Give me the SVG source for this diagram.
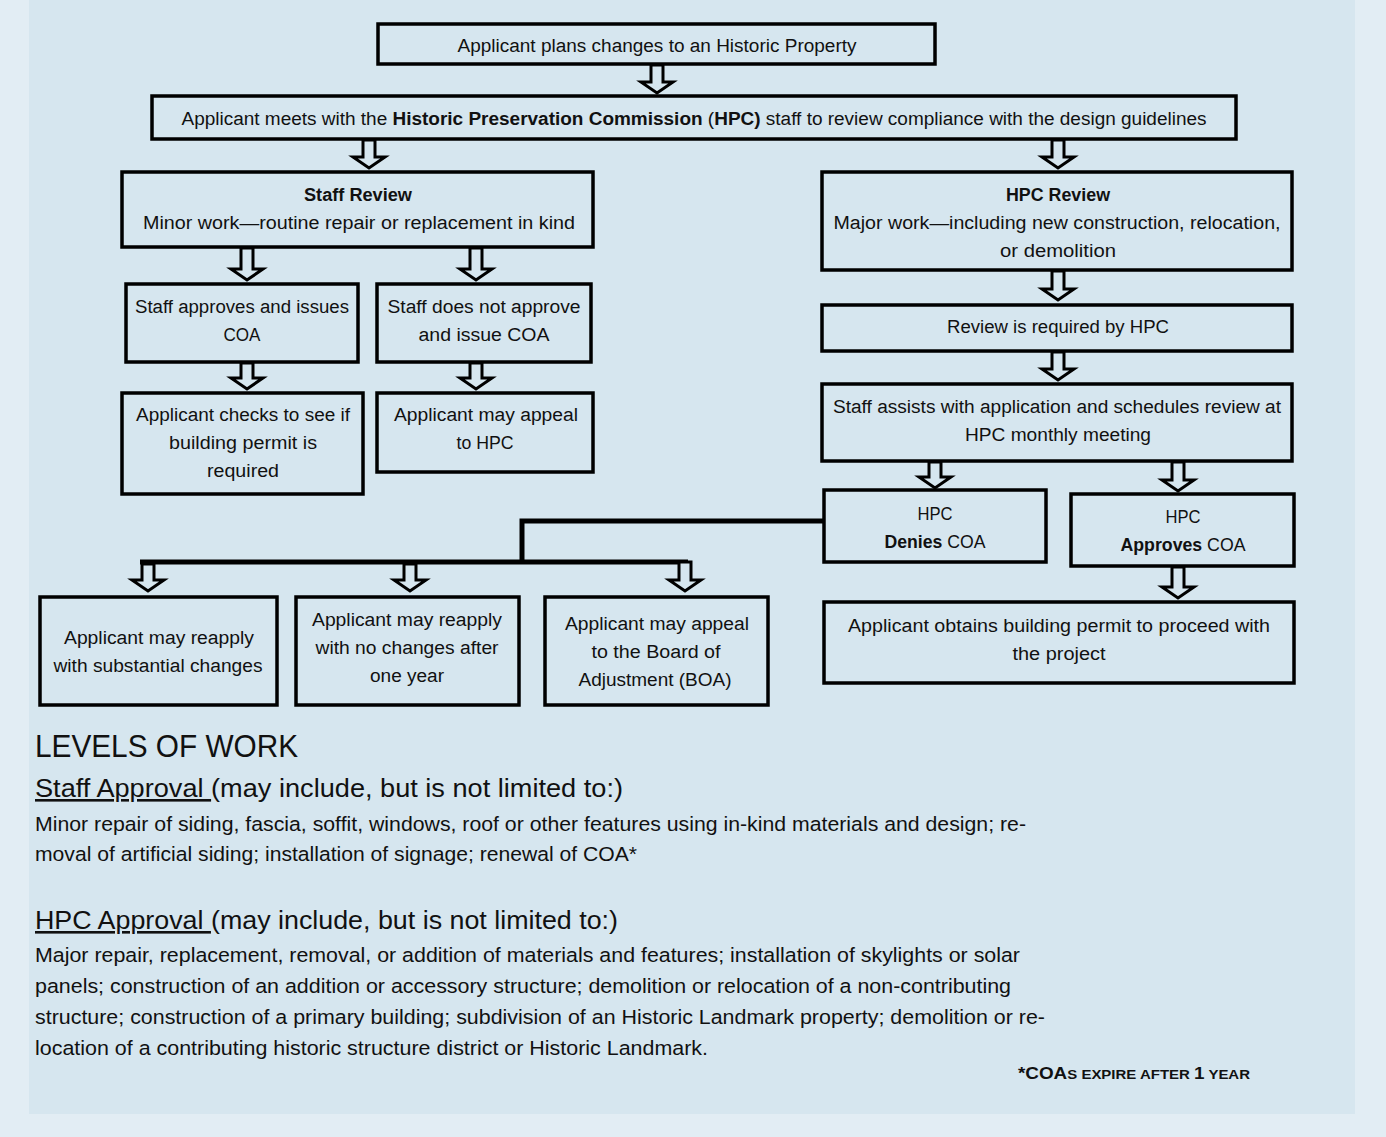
<svg xmlns="http://www.w3.org/2000/svg" width="1386" height="1137" viewBox="0 0 1386 1137">
<style>
.box{fill:none;stroke:#000;stroke-width:3.5}
.t{font-family:"Liberation Sans",Arial,sans-serif;font-size:18px;fill:#111;text-anchor:middle}
.b{font-weight:bold}
.arr{fill:#d6e6ef;stroke:#000;stroke-width:3;stroke-linejoin:miter}
.ln{fill:none;stroke:#000;stroke-width:5}
.h{font-family:"Liberation Sans",Arial,sans-serif;fill:#111}
</style>
<rect x="0" y="0" width="1386" height="1137" fill="#e2edf4"/>
<rect x="29" y="0" width="1326" height="1114" fill="#d6e6ef"/>

<g id="n1"><rect class="box" x="378" y="24" width="557" height="40"/><text class="t" x="657" y="52" textLength="399" lengthAdjust="spacingAndGlyphs">Applicant plans changes to an Historic Property</text></g>
<g id="n2"><rect class="box" x="152" y="96" width="1084" height="43"/><text class="t" x="694" y="125" textLength="1025" lengthAdjust="spacingAndGlyphs">Applicant meets with the <tspan class="b">Historic Preservation Commission</tspan> (<tspan class="b">HPC)</tspan> staff to review  compliance with  the design guidelines</text></g>
<g id="n3"><rect class="box" x="122" y="172" width="471" height="75"/><text class="t b" x="358" y="201" textLength="108" lengthAdjust="spacingAndGlyphs">Staff Review</text><text class="t" x="359" y="229" textLength="432" lengthAdjust="spacingAndGlyphs">Minor work—routine repair or replacement in kind</text></g>
<g id="n4"><rect class="box" x="822" y="172" width="470" height="98"/><text class="t b" x="1058" y="201" textLength="104" lengthAdjust="spacingAndGlyphs">HPC Review</text><text class="t" x="1057" y="229" textLength="447" lengthAdjust="spacingAndGlyphs">Major work—including new construction, relocation,</text><text class="t" x="1058" y="257" textLength="116" lengthAdjust="spacingAndGlyphs">or demolition</text></g>
<g id="n5"><rect class="box" x="126" y="284" width="232" height="78"/><text class="t" x="242" y="313" textLength="214" lengthAdjust="spacingAndGlyphs">Staff approves and issues</text><text class="t" x="242" y="341" textLength="37" lengthAdjust="spacingAndGlyphs">COA</text></g>
<g id="n6"><rect class="box" x="377" y="284" width="214" height="78"/><text class="t" x="484" y="313" textLength="193" lengthAdjust="spacingAndGlyphs">Staff does not approve</text><text class="t" x="484" y="341" textLength="131" lengthAdjust="spacingAndGlyphs">and  issue  COA</text></g>
<g id="n7"><rect class="box" x="122" y="393" width="241" height="101"/><text class="t" x="243" y="421" textLength="214" lengthAdjust="spacingAndGlyphs">Applicant checks to see if</text><text class="t" x="243" y="449" textLength="148" lengthAdjust="spacingAndGlyphs">building permit is</text><text class="t" x="243" y="477" textLength="72" lengthAdjust="spacingAndGlyphs">required</text></g>
<g id="n8"><rect class="box" x="377" y="393" width="216" height="79"/><text class="t" x="486" y="421" textLength="184" lengthAdjust="spacingAndGlyphs">Applicant may appeal</text><text class="t" x="485" y="449" textLength="57" lengthAdjust="spacingAndGlyphs">to HPC</text></g>
<g id="n9"><rect class="box" x="822" y="305" width="470" height="46"/><text class="t" x="1058" y="333" textLength="222" lengthAdjust="spacingAndGlyphs">Review is required by HPC</text></g>
<g id="n10"><rect class="box" x="822" y="384" width="470" height="77"/><text class="t" x="1057" y="413" textLength="448" lengthAdjust="spacingAndGlyphs">Staff assists with application and schedules review at</text><text class="t" x="1058" y="441" textLength="186" lengthAdjust="spacingAndGlyphs">HPC monthly meeting</text></g>
<g id="n11"><rect class="box" x="824" y="490" width="222" height="72"/><text class="t" x="935" y="520" textLength="35" lengthAdjust="spacingAndGlyphs">HPC</text><text class="t" x="935" y="548" textLength="101" lengthAdjust="spacingAndGlyphs"><tspan class="b">Denies</tspan> COA</text></g>
<g id="n12"><rect class="box" x="1071" y="494" width="223" height="72"/><text class="t" x="1183" y="523" textLength="35" lengthAdjust="spacingAndGlyphs">HPC</text><text class="t" x="1183" y="551" textLength="125" lengthAdjust="spacingAndGlyphs"><tspan class="b">Approves</tspan> COA</text></g>
<g id="n13"><rect class="box" x="824" y="602" width="470" height="81"/><text class="t" x="1059" y="632" textLength="422" lengthAdjust="spacingAndGlyphs">Applicant obtains building permit to proceed with</text><text class="t" x="1059" y="660" textLength="93" lengthAdjust="spacingAndGlyphs">the project</text></g>
<g id="n14"><rect class="box" x="40" y="597" width="237" height="108"/><text class="t" x="159" y="644" textLength="190" lengthAdjust="spacingAndGlyphs">Applicant may reapply</text><text class="t" x="158" y="672" textLength="209" lengthAdjust="spacingAndGlyphs">with substantial changes</text></g>
<g id="n15"><rect class="box" x="296" y="597" width="223" height="108"/><text class="t" x="407" y="626" textLength="190" lengthAdjust="spacingAndGlyphs">Applicant may reapply</text><text class="t" x="407" y="654" textLength="183" lengthAdjust="spacingAndGlyphs">with no changes after</text><text class="t" x="407" y="682" textLength="74" lengthAdjust="spacingAndGlyphs">one year</text></g>
<g id="n16"><rect class="box" x="545" y="597" width="223" height="108"/><text class="t" x="657" y="630" textLength="184" lengthAdjust="spacingAndGlyphs">Applicant may appeal</text><text class="t" x="656" y="658" textLength="129" lengthAdjust="spacingAndGlyphs">to the Board of</text><text class="t" x="655" y="686" textLength="153" lengthAdjust="spacingAndGlyphs">Adjustment (BOA)</text></g>

<g id="connectors">
<path class="ln" d="M824,521 H522 V562 M140,562 H688"/>
<path class="arr" d="M651,65 H663 V82 H673 L657,93 L641,82 H651 Z"/>
<path class="arr" d="M363,140 H375 V157 H385 L369,168 L353,157 H363 Z"/>
<path class="arr" d="M1052,140 H1064 V157 H1074 L1058,168 L1042,157 H1052 Z"/>
<path class="arr" d="M241,248 H253 V269 H263 L247,280 L231,269 H241 Z"/>
<path class="arr" d="M470,248 H482 V269 H492 L476,280 L460,269 H470 Z"/>
<path class="arr" d="M241,363 H253 V378 H263 L247,389 L231,378 H241 Z"/>
<path class="arr" d="M470,363 H482 V378 H492 L476,389 L460,378 H470 Z"/>
<path class="arr" d="M1052,271 H1064 V289 H1074 L1058,300 L1042,289 H1052 Z"/>
<path class="arr" d="M1052,352 H1064 V369 H1074 L1058,380 L1042,369 H1052 Z"/>
<path class="arr" d="M929,462 H941 V477 H951 L935,488 L919,477 H929 Z"/>
<path class="arr" d="M1172,462 H1184 V480 H1194 L1178,491 L1162,480 H1172 Z"/>
<path class="arr" d="M1172,567 H1184 V587 H1194 L1178,598 L1162,587 H1172 Z"/>
<path class="arr" d="M142,564 H154 V580 H164 L148,591 L132,580 H142 Z"/>
<path class="arr" d="M404,564 H416 V580 H426 L410,591 L394,580 H404 Z"/>
<path class="arr" d="M679,562 H691 V580 H701 L685,591 L669,580 H679 Z"/>
</g>

<text class="h" x="35" y="757" font-size="32" textLength="263" lengthAdjust="spacingAndGlyphs">LEVELS OF WORK</text>
<text class="h" x="35" y="797" font-size="26" textLength="588" lengthAdjust="spacingAndGlyphs"><tspan text-decoration="underline">Staff Approval </tspan>(may include, but is not limited to:)</text>
<text class="h" x="35" y="831" font-size="20.5" textLength="991" lengthAdjust="spacingAndGlyphs">Minor repair of siding, fascia, soffit, windows, roof or other features using in-kind materials and design; re-</text>
<text class="h" x="35" y="861" font-size="20.5" textLength="602" lengthAdjust="spacingAndGlyphs">moval of artificial siding; installation of signage; renewal of COA*</text>
<text class="h" x="35" y="929" font-size="26" textLength="583" lengthAdjust="spacingAndGlyphs"><tspan text-decoration="underline">HPC Approval </tspan>(may include, but is not limited to:)</text>
<text class="h" x="35" y="962" font-size="20.5" textLength="985" lengthAdjust="spacingAndGlyphs">Major repair, replacement, removal, or addition of materials and features; installation of skylights or solar</text>
<text class="h" x="35" y="993" font-size="20.5" textLength="976" lengthAdjust="spacingAndGlyphs">panels; construction of an addition or accessory structure; demolition or relocation of a non-contributing</text>
<text class="h" x="35" y="1024" font-size="20.5" textLength="1010" lengthAdjust="spacingAndGlyphs">structure; construction of a primary building; subdivision of an Historic Landmark property; demolition or re-</text>
<text class="h" x="35" y="1055" font-size="20.5" textLength="673" lengthAdjust="spacingAndGlyphs">location of a contributing historic structure district or Historic Landmark.</text>
<text class="h" x="1018" y="1079" font-weight="bold" font-size="17" textLength="232" lengthAdjust="spacingAndGlyphs">*COA<tspan font-size="13.5">S EXPIRE AFTER </tspan>1<tspan font-size="13.5"> YEAR</tspan></text>
</svg>
